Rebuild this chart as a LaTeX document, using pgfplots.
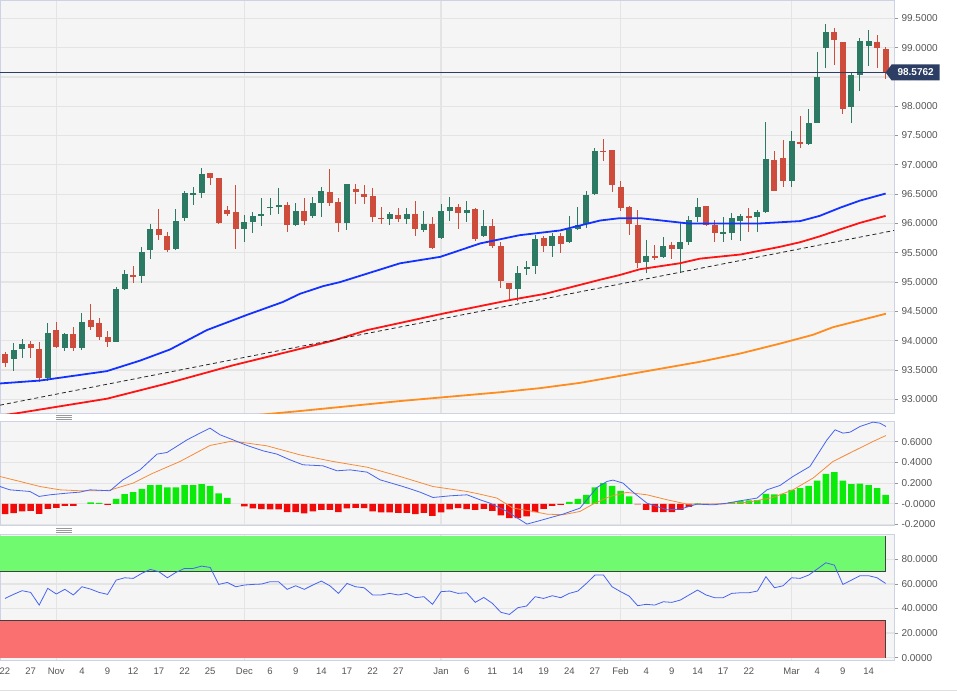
\documentclass[border=0pt]{standalone}
\usepackage{fontspec}
\setmainfont{Liberation Sans}
\usepackage{pgfplots}
\usepackage{pgfplotstable}
\pgfplotsset{compat=1.18}

\definecolor{bgc}{RGB}{245,245,245}
\definecolor{gridc}{RGB}{228,228,228}
\definecolor{axc}{RGB}{205,210,228}
\definecolor{tickc}{RGB}{150,150,150}
\definecolor{labc}{RGB}{85,85,85}
\definecolor{cgreen}{RGB}{44,122,99}
\definecolor{cred}{RGB}{206,76,60}
\definecolor{mablue}{RGB}{20,50,255}
\definecolor{mared}{RGB}{255,20,20}
\definecolor{maorange}{RGB}{255,140,30}
\definecolor{navy}{RGB}{44,62,100}
\definecolor{hgreen}{RGB}{10,235,10}
\definecolor{hred}{RGB}{240,10,10}
\definecolor{macdblue}{RGB}{70,100,240}
\definecolor{macdorange}{RGB}{245,140,60}
\definecolor{rsigreen}{RGB}{112,250,112}
\definecolor{rsired}{RGB}{250,112,112}

% green (up) candles: index, open, high, low, close
\pgfplotstableread{
i o h l c
1 93.68 93.96 93.49 93.84
2 93.86 94.03 93.70 93.95
5 93.36 94.30 93.32 94.13
7 93.87 94.13 93.82 94.12
9 93.87 94.47 93.85 94.32
13 93.98 94.91 93.97 94.89
14 94.89 95.20 94.86 95.14
16 95.11 95.60 94.98 95.52
17 95.54 95.99 95.39 95.91
20 95.56 96.24 95.55 96.05
21 96.09 96.56 96.05 96.52
22 96.49 96.62 96.31 96.51
23 96.52 96.94 96.43 96.85
28 95.91 96.15 95.68 96.03
29 96.03 96.19 95.84 96.13
30 96.13 96.44 95.96 96.16
31 96.27 96.43 96.14 96.28
32 96.28 96.60 96.16 96.31
34 95.97 96.35 95.95 96.22
36 96.12 96.45 96.09 96.35
37 96.35 96.63 96.11 96.56
40 96.01 96.68 95.88 96.68
45 96.07 96.19 95.97 96.16
47 96.08 96.27 95.99 96.16
49 95.89 96.22 95.86 95.99
51 95.76 96.34 95.73 96.22
52 96.22 96.46 96.05 96.28
54 96.18 96.39 96.03 96.23
56 95.78 96.23 95.77 95.95
60 94.88 95.27 94.67 95.16
61 95.23 95.36 95.12 95.26
62 95.27 95.80 95.14 95.74
64 95.61 95.84 95.43 95.78
66 95.68 96.12 95.66 95.90
67 95.90 96.28 95.89 95.98
68 95.99 96.55 95.92 96.49
69 96.51 97.28 96.48 97.23
75 95.34 95.72 95.16 95.45
77 95.43 95.77 95.41 95.61
79 95.56 96.02 95.15 95.68
80 95.68 96.13 95.64 96.06
81 96.11 96.43 96.03 96.28
84 95.83 96.11 95.68 95.85
85 95.84 96.18 95.72 96.09
86 96.05 96.16 95.71 96.13
88 96.11 96.23 95.85 96.20
89 96.20 97.74 96.18 97.10
92 96.73 97.57 96.63 97.40
94 97.36 97.95 97.34 97.72
95 97.72 98.93 97.71 98.49
96 98.99 99.41 98.66 99.26
99 97.98 98.59 97.72 98.53
100 98.53 99.16 98.26 99.12
101 99.02 99.30 98.69 99.12
}\greencandles

% red (down) candles
\pgfplotstableread{
i o h l c
0 93.77 93.80 93.55 93.62
3 93.95 94.00 93.70 93.87
4 93.86 93.97 93.29 93.36
6 94.19 94.32 93.87 93.89
8 94.12 94.23 93.83 93.87
10 94.35 94.63 94.19 94.23
11 94.30 94.38 94.01 94.06
12 94.06 94.16 93.89 93.98
15 95.12 95.27 94.99 95.10
18 95.91 96.24 95.72 95.80
19 95.79 95.86 95.52 95.54
24 96.86 96.86 96.66 96.78
25 96.78 96.78 95.99 96.00
26 96.23 96.29 96.13 96.16
27 96.19 96.65 95.56 95.90
33 96.31 96.36 95.86 95.98
35 96.22 96.43 95.98 96.05
38 96.53 96.93 96.30 96.35
39 96.36 96.44 95.85 96.01
41 96.59 96.68 96.34 96.53
42 96.51 96.65 96.34 96.46
43 96.47 96.60 96.02 96.11
44 96.10 96.28 95.99 96.07
46 96.14 96.26 96.02 96.08
48 96.16 96.39 95.78 95.91
50 95.99 96.11 95.56 95.59
53 96.29 96.34 95.90 96.18
55 96.25 96.26 95.71 95.73
57 95.96 96.07 95.58 95.61
58 95.61 95.68 94.90 95.01
59 94.99 94.99 94.67 94.88
63 95.75 95.78 95.51 95.61
65 95.78 95.84 95.49 95.65
70 97.24 97.44 97.07 97.22
71 97.26 97.26 96.53 96.65
72 96.62 96.72 96.22 96.26
73 96.28 96.29 95.81 95.99
74 95.98 96.23 95.24 95.32
76 95.45 95.64 95.38 95.41
78 95.64 95.69 95.39 95.56
82 96.29 96.29 95.96 95.98
83 95.98 96.06 95.68 95.84
87 96.13 96.26 95.85 96.10
90 97.09 97.23 96.55 96.56
91 97.12 97.43 96.62 96.73
93 97.39 97.84 97.28 97.36
97 99.26 99.33 98.70 99.13
98 99.09 99.09 97.86 97.95
102 99.10 99.22 98.65 98.99
103 98.98 99.01 98.46 98.5762
}\redcandles

\pgfplotsset{
  panel/.style={
    scale only axis, width=894pt,
    xmin=-0.585, xmax=103.98,
    axis background/.style={fill=bgc},
    axis line style={draw=axc, line width=0.8pt},
    grid style={draw=gridc, line width=1.2pt},
    ymajorgrids, xmajorgrids,
    xtick={6,28,51,72,92},
    xtick style={draw=none},
    ytick pos=right, yticklabel pos=right,
    tick align=outside, major tick length=4pt,
    ytick style={draw=tickc, line width=0.8pt},
    yticklabel style={font=\fontsize{10}{12}\selectfont, text=labc},
    xticklabel style={font=\fontsize{9.5}{11}\selectfont, text=labc},
    clip mode=individual,
  },
  wick/.style={only marks, mark=none, mark size=0pt, mark options={draw=none, fill=none},
    error bars/.cd, y dir=both, y explicit,
    error mark=none, error bar style={line width=1pt, draw=#1}},
  body/.style={only marks, mark=none, mark size=0pt, mark options={draw=none, fill=none},
    error bars/.cd, y dir=both, y explicit,
    error mark=none, error bar style={line width=6pt, draw=#1}},
}

\begin{document}
\begin{tikzpicture}
\path[use as bounding box] (0pt,0pt) rectangle (957pt,-694pt);
\fill[white] (0pt,0pt) rectangle (957pt,-694pt);

%================ MAIN PRICE PANEL
\begin{axis}[panel, at={(0pt,0pt)}, anchor=north west, height=413pt,
  ymin=92.766, ymax=99.812,
  ytick={93,93.5,94,94.5,95,95.5,96,96.5,97,97.5,98,98.5,99,99.5},
  yticklabels={93.0000,93.5000,94.0000,94.5000,95.0000,95.5000,96.0000,96.5000,97.0000,97.5000,98.0000,98.5000,99.0000,99.5000},
  xticklabels={}]
% candles
\addplot[wick=cgreen] table[x=i, y expr={(\thisrow{h}+\thisrow{l})/2}, y error expr={(\thisrow{h}-\thisrow{l})/2}] {\greencandles};
\addplot[wick=cred] table[x=i, y expr={(\thisrow{h}+\thisrow{l})/2}, y error expr={(\thisrow{h}-\thisrow{l})/2}] {\redcandles};
\addplot[body=cgreen] table[x=i, y expr={(\thisrow{o}+\thisrow{c})/2}, y error expr={max(abs(\thisrow{c}-\thisrow{o})/2,0.013)}] {\greencandles};
\addplot[body=cred] table[x=i, y expr={(\thisrow{o}+\thisrow{c})/2}, y error expr={max(abs(\thisrow{c}-\thisrow{o})/2,0.013)}] {\redcandles};
% 200 MA (orange)
\addplot[maorange, line width=1.8pt] coordinates {
(20,92.55) (28.65,92.72) (34.5,92.80) (46.2,92.97) (50.88,93.03) (57.89,93.12) (62.57,93.19) (67.25,93.28) (69.59,93.34) (71.93,93.40) (81.29,93.64) (85.96,93.78) (90.64,93.95) (94.5,94.10) (96.84,94.23) (103.04,94.46)};
% 100 MA (red)
\addplot[mared, line width=1.8pt] coordinates {
(-0.6,92.72) (1.75,92.77) (7.25,92.90) (11.93,93.01) (18.95,93.27) (26.67,93.58) (34.5,93.86) (38.36,94.0) (42.34,94.18) (51.5,94.47) (59.3,94.70) (63.2,94.80) (69.6,95.04) (71.9,95.12) (74.3,95.22) (78.9,95.32) (81.3,95.40) (86.0,95.47) (90.6,95.60) (93.0,95.68) (95.3,95.78) (97.7,95.90) (100,96.01) (103.0,96.13)};
% 55 MA (blue)
\addplot[mablue, line width=1.8pt] coordinates {
(-0.6,93.27) (4.1,93.32) (11.9,93.48) (15.8,93.66) (19.3,93.85) (23.6,94.18) (28.3,94.44) (32.5,94.66) (34.5,94.80) (37.2,94.93) (39.2,95.00) (46.2,95.32) (50.9,95.43) (55.6,95.66) (60.2,95.80) (64.9,95.88) (69.6,96.05) (71.9,96.09) (74.3,96.09) (76.8,96.05) (79.9,96.00) (83.6,96.00) (88.3,96.00) (93.0,96.04) (95.3,96.13) (97.7,96.27) (100,96.39) (103.0,96.51)};
% trend line
\addplot[black!85, line width=0.8pt, dash pattern=on 4pt off 3pt] coordinates {(-0.585,92.90) (103.98,95.88)};
% last price line
\addplot[navy, line width=1pt] coordinates {(-0.585,98.5762) (103.98,98.5762)};
\coordinate (tagtip) at (axis cs:103,98.5762);
\end{axis}
\fill[navy] (tagtip) -- ++(6pt,8pt) -- ++(48pt,0pt) -- ++(0pt,-16pt) -- ++(-48pt,0pt) -- cycle;
\node[text=white, font=\bfseries\fontsize{10}{12}\selectfont, inner sep=0pt] at ([xshift=30pt]tagtip) {98.5762};

% handles
\foreach \yy in {415,417,419} {\draw[black!40, line width=0.6pt] (56pt,-\yy pt) -- (72pt,-\yy pt);}
\foreach \yy in {528,530,532} {\draw[black!40, line width=0.6pt] (56pt,-\yy pt) -- (72pt,-\yy pt);}

%================ MACD PANEL
\begin{axis}[panel, at={(0pt,-421pt)}, anchor=north west, height=104pt,
  ymin=-0.205, ymax=0.80,
  ytick={-0.2,0,0.2,0.4,0.6},
  yticklabels={-0.2000,-0.0000,0.2000,0.4000,0.6000},
  xticklabels={}]
\addplot[ybar, bar width=6.5pt, bar shift=0pt, fill=hgreen, draw=none] coordinates {
(10,0.013) (11,0.010) (13,0.048) (14,0.093) (15,0.113) (16,0.145) (17,0.18) (18,0.184) (19,0.158) (20,0.158) (21,0.18) (22,0.18) (23,0.19) (24,0.174) (25,0.10) (26,0.058)
(66,0.019) (67,0.048) (68,0.087) (69,0.158) (70,0.20) (71,0.174) (72,0.126) (73,0.071) (81,0.003)
(85,0.016) (86,0.029) (87,0.032) (88,0.035) (89,0.097) (90,0.09) (91,0.097) (92,0.135) (93,0.151) (94,0.174) (95,0.225) (96,0.29) (97,0.306) (98,0.225) (99,0.19) (100,0.196) (101,0.18) (102,0.151) (103,0.087)};
\addplot[ybar, bar width=6.5pt, bar shift=0pt, fill=hred, draw=none] coordinates {
(0,-0.10) (1,-0.09) (2,-0.074) (3,-0.068) (4,-0.097) (5,-0.048) (6,-0.039) (7,-0.019) (8,-0.019) (12,-0.010)
(28,-0.026) (29,-0.045) (30,-0.052) (31,-0.055) (32,-0.055) (33,-0.08) (34,-0.08) (35,-0.093) (36,-0.074) (37,-0.058) (38,-0.058) (39,-0.08) (40,-0.045) (41,-0.039) (42,-0.042) (43,-0.074) (44,-0.084) (45,-0.084) (46,-0.087) (47,-0.087) (48,-0.10) (49,-0.087) (50,-0.116) (51,-0.084) (52,-0.055) (53,-0.042) (54,-0.052) (55,-0.058) (56,-0.048) (57,-0.068) (58,-0.113) (59,-0.138) (60,-0.138) (61,-0.122) (62,-0.08) (63,-0.048) (64,-0.019) (65,-0.010)
(74,-0.005) (75,-0.058) (76,-0.08) (77,-0.08) (78,-0.08) (79,-0.058) (80,-0.029) (82,-0.003) (83,-0.003) (84,-0.003)};
% signal line
\addplot[macdorange, line width=0.8pt] coordinates {
(-0.6,0.264) (1.75,0.216) (4.09,0.167) (6.43,0.135) (8.77,0.126) (11.11,0.126) (12.28,0.132) (14.97,0.20) (17.31,0.296) (20.47,0.409) (23.98,0.564) (26.32,0.602) (27.49,0.596) (30.64,0.56) (34.5,0.473) (38.36,0.409) (42.34,0.354) (46.2,0.264) (50.06,0.167) (54.04,0.119) (55.56,0.093) (57.54,0.055) (59.42,-0.042) (61.4,-0.068) (63.39,-0.1) (65.26,-0.106) (67.25,-0.074) (68.77,-0.003) (70.76,0.071) (72.75,0.11) (75.09,0.087) (77.43,0.039) (79.77,-0.003) (82.81,-0.003) (86.78,0.013) (89.82,0.061) (92.16,0.135) (94.5,0.248) (96.84,0.409) (99.18,0.506) (101.52,0.602) (103.04,0.66)};
% MACD line
\addplot[macdblue, line width=0.8pt] coordinates {
(-0.58,0.167) (0.58,0.135) (2.92,0.119) (3.98,0.071) (5.26,0.087) (7.25,0.103) (8.77,0.113) (9.94,0.135) (12.28,0.126) (13.80,0.232) (15.79,0.328) (17.78,0.48) (18.95,0.496) (21.29,0.618) (22.81,0.683) (23.98,0.731) (25.15,0.667) (26.67,0.618) (28.30,0.564) (30.18,0.512) (31.81,0.48) (33.33,0.425) (34.85,0.377) (37.19,0.367) (38.83,0.319) (40.35,0.328) (42.34,0.306) (43.86,0.232) (46.55,0.167) (48.54,0.113) (50.06,0.061) (52.05,0.077) (54.04,0.087) (55.56,0.039) (56.73,0.006) (58.71,-0.074) (61.05,-0.196) (62.22,-0.17) (65.26,-0.1) (67.25,-0.042) (69.24,0.158) (70.41,0.216) (71.11,0.229) (72.28,0.20) (73.45,0.113) (75.09,0.006) (77.43,-0.058) (78.95,-0.052) (80.94,-0.003) (82.81,-0.01) (84.44,0.006) (85.96,0.029) (87.95,0.055) (89.12,0.135) (90.64,0.177) (92.16,0.264) (94.15,0.361) (96.14,0.618) (97.08,0.715) (98.01,0.683) (98.83,0.692) (100,0.747) (101.52,0.789) (102.34,0.779) (103.04,0.747)};
\end{axis}

%================ RSI PANEL
\begin{axis}[panel, at={(0pt,-534pt)}, anchor=north west, height=126pt,
  ymin=-1.9, ymax=100.6,
  ytick={0,20,40,60,80},
  yticklabels={0.0000,20.0000,40.0000,60.0000,80.0000},
  xticklabels={Nov,Dec,Jan,Feb,Mar},
  extra x ticks={0,3,9,12,15,18,21,24,31,34,37,40,43,46,54,57,60,63,66,69,75,78,81,84,87,95,98,101},
  extra x tick labels={22,27,4,9,12,17,22,25,6,9,14,17,22,27,6,11,14,19,24,27,4,9,14,17,22,4,9,14},
  extra x tick style={grid=none, xtick style={draw=none}}]
\addplot[fill=rsigreen, draw=none] coordinates {(-0.585,70) (103,70) (103,99.3) (-0.585,99.3)} -- cycle;
\addplot[fill=rsired, draw=none] coordinates {(-0.585,0) (103,0) (103,30) (-0.585,30)} -- cycle;
\addplot[black!75, line width=0.9pt] coordinates {(-0.585,70) (103,70) (103,99.3)};
\addplot[black!75, line width=0.9pt] coordinates {(-0.585,30) (103,30) (103,0)};
\addplot[macdblue, line width=0.8pt] coordinates {
(0,48.2) (1,51.5) (2,54.5) (3,53.1) (4,42.8) (5,56.4) (6,51.8) (7,55.6) (8,51) (9,57.7)
(10,55.8) (11,53.1) (12,51.5) (13,63.1) (14,65) (15,64.5) (16,68.6) (17,71.8) (18,69.9) (19,65)
(20,69.4) (21,72.6) (22,72.6) (23,74.5) (24,73.4) (25,59.6) (26,61.2) (27,57.7) (28,59.1) (29,59.6)
(30,59.9) (31,61.8) (32,61.8) (33,55.6) (34,58.5) (35,55.6) (36,59.1) (37,62.3) (38,58.5) (39,52.3)
(40,60.4) (41,57.7) (42,56.9) (43,51) (44,51) (45,52.3) (46,51) (47,52.3) (48,48.8) (49,49.6)
(50,43.4) (51,53.7) (52,54.2) (53,52.3) (54,52.8) (55,45) (56,49) (57,44.2) (58,36.9) (59,35.2)
(60,40.7) (61,42) (62,49.6) (63,48.2) (64,50.4) (65,48.8) (66,52.3) (67,54.2) (68,60.4) (69,67.2)
(70,67.2) (71,57.7) (72,53.7) (73,50.1) (74,42.3) (75,43.4) (76,42.8) (77,45.5) (78,45) (79,46.9)
(80,51) (81,55) (82,51) (83,48.8) (84,48.8) (85,52.3) (86,52.8) (87,52.8) (88,54.2) (89,65.9)
(90,56.9) (91,58.5) (92,65) (93,64.5) (94,67.2) (95,72.1) (96,77.2) (97,75.3) (98,59.6) (99,63.1)
(100,66.7) (101,66.7) (102,65) (103,60.4)};
\end{axis}

\draw[black!12, line width=0.8pt] (0pt,-690pt) -- (957pt,-690pt);
\end{tikzpicture}
\end{document}
